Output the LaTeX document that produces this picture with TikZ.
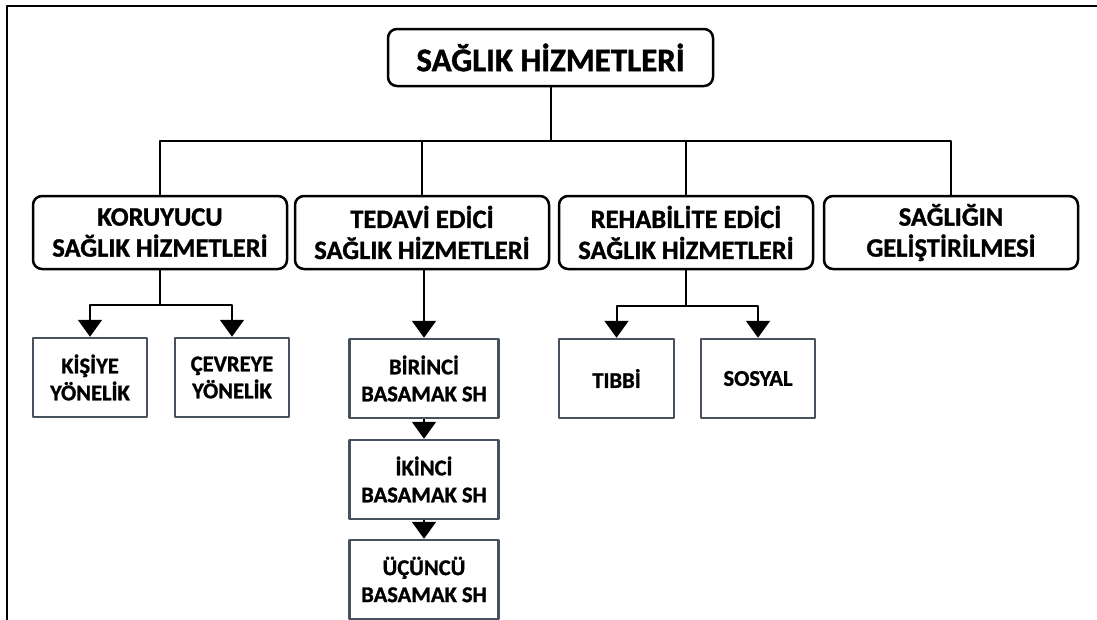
\documentclass[tikz,border=0pt]{standalone}
\usepackage{fontspec}
\setmainfont{Carlito}[BoldFeatures={FakeBold=1.2}]
\usetikzlibrary{arrows.meta}

\begin{document}
\begin{tikzpicture}[x=1pt, y=-1pt, line join=round, font=\bfseries,
	anabaslik/.style={draw, line width=2.5pt, rounded corners=9pt, minimum width=325pt, minimum height=57pt, inner sep=0pt, font=\fontsize{33}{38}\selectfont\bfseries},
	anakutu/.style={draw, line width=2.5pt, rounded corners=9pt, minimum width=254pt, minimum height=73pt, inner sep=0pt, align=center, font=\fontsize{26.5}{31}\selectfont\bfseries},
	altkutu/.style={draw=kutugri, line width=2.5pt, minimum height=79pt, inner sep=0pt, align=center, font=\fontsize{22.5}{27}\selectfont\bfseries},
	cizgi/.style={line width=2pt},
	ok/.style={line width=2pt, -{Triangle[length=17pt, width=24pt]}}]
	% Renkler
	\definecolor{kutugri}{RGB}{72,82,94}
	
	\useasboundingbox (0,0) rectangle (1097,619);
	
	% Dış çerçeve
	\draw[cizgi] (7,640) -- (7,6) -- (1110,6);
	
	% Ana başlık
	\node[anabaslik] (saglik) at (550.5,57.5) {SAĞLIK HİZMETLERİ};
	
	% Birinci düzey kutular
	\node[anakutu] (koruyucu) at (160,232.5) {KORUYUCU\\SAĞLIK HİZMETLERİ};
	\node[anakutu] (tedavi) at (422,232.5) {TEDAVİ EDİCİ\\SAĞLIK HİZMETLERİ};
	\node[anakutu] (rehab) at (686,232.5) {REHABİLİTE EDİCİ\\SAĞLIK HİZMETLERİ};
	\node[anakutu] (gelistirme) at (951,232.5) {SAĞLIĞIN\\GELİŞTİRİLMESİ};
	
	% Alt kutular
	\node[altkutu, minimum width=114pt] (kisi) at (90,377.5) {KİŞİYE\\YÖNELİK};
	\node[altkutu, minimum width=114pt] (cevre) at (232,377.5) {ÇEVREYE\\YÖNELİK};
	\node[altkutu, minimum width=149pt] (birinci) at (424,378.5) {BİRİNCİ\\BASAMAK SH};
	\node[altkutu, minimum width=149pt] (ikinci) at (424,479.5) {İKİNCİ\\BASAMAK SH};
	\node[altkutu, minimum width=149pt] (ucuncu) at (424,579.5) {ÜÇÜNCÜ\\BASAMAK SH};
	\node[altkutu, minimum width=115pt] (tibbi) at (616.5,378.5) {TIBBİ};
	\node[altkutu, minimum width=114pt] (sosyal) at (758,378.5) {SOSYAL};
	
	% Ana başlıktan dallar
	\draw[cizgi] (saglik.south) -- ++(0,54) coordinate (dal);
	\foreach \k in {koruyucu, tedavi, rehab, gelistirme} {
		\draw[cizgi] (dal) -| (\k.north);
	}
	
	% Koruyucu ve rehabilite dalları
	\draw[cizgi] (koruyucu.south) -- ++(0,35) coordinate (kordal);
	\draw[ok] (kordal) -| (kisi.north);
	\draw[ok] (kordal) -| (cevre.north);
	\draw[cizgi] (rehab.south) -- ++(0,36) coordinate (rehdal);
	\draw[ok] (rehdal) -| (tibbi.north);
	\draw[ok] (rehdal) -| (sosyal.north);
	
	% Basamaklar
	\draw[ok] (birinci.north |- tedavi.south) -- (birinci.north);
	\draw[ok] (birinci.south) -- (ikinci.north);
	\draw[ok] (ikinci.south) -- (ucuncu.north);
\end{tikzpicture}
\end{document}
